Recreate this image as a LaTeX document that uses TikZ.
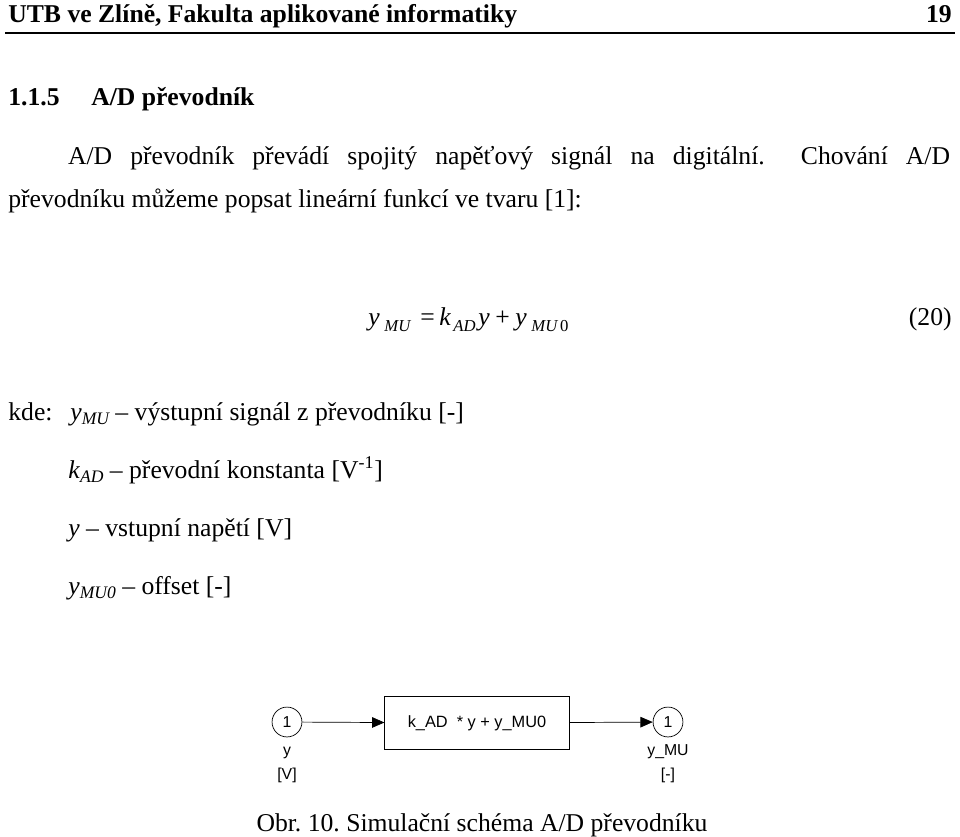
\documentclass[tikz,border=0pt]{standalone}
\usepackage{fontspec}
\setmainfont{Liberation Serif}
\newfontfamily\simfont{Liberation Sans}
\usetikzlibrary{arrows.meta}
\frenchspacing

\tikzset{
  txt/.style={anchor=base west, inner sep=0pt, font=\fontsize{14.6}{17}\selectfont},
  sub/.style={anchor=base west, inner sep=0pt, font=\fontsize{9.5}{10}\selectfont\itshape},
  port/.style={draw, circle, minimum size=17pt, inner sep=0pt, font=\simfont\fontsize{9}{10}\selectfont},
  lbl/.style={inner sep=0pt, anchor=base, font=\simfont\fontsize{9}{10}\selectfont},
  fcn/.style={draw, minimum width=105pt, minimum height=30pt, font=\simfont\fontsize{9.3}{10}\selectfont},
  sig/.style={-{Triangle[length=7pt,width=6pt]}}
}

\begin{document}
\begin{tikzpicture}[x=0.02cm, y=-0.02cm]
\useasboundingbox (0,0) rectangle (960,836);
% header
\node[txt, font=\fontsize{14.6}{17}\selectfont\bfseries] (head) at (8,22) {UTB ve Zlíně, Fakulta aplikované informatiky};
\node[txt, anchor=base east, font=\fontsize{14.6}{17}\selectfont\bfseries] (page) at (952,22) {19};
\draw[line width=0.6pt] (5,33) -- (955,33);
\node[txt, font=\fontsize{14.6}{17}\selectfont\bfseries] (sec) at (8,105) {1.1.5\hspace{18pt}A/D převodník};
% paragraph
\node[anchor=north west, inner sep=0pt, text width=536pt, align=justify,
      font=\fontsize{14.6}{24.4}\selectfont] (par) at (8,146)
  {\hspace*{34pt}A/D převodník převádí spojitý napěťový signál na digitální.\ \ Chování A/D\linebreak převodníku můžeme popsat lineární funkcí ve tvaru [1]:};
% equation
\node[txt, font=\fontsize{14.6}{17}\selectfont\itshape] (e1) at (368,325) {y};
\node[sub] (e2) at (384,331) {MU};
\node[txt] (e3) at (420,325) {=};
\node[txt, font=\fontsize{14.6}{17}\selectfont\itshape] (e4) at (439,325) {k};
\node[sub] (e5) at (453,331) {AD};
\node[txt, font=\fontsize{14.6}{17}\selectfont\itshape] (e6) at (478,325) {y};
\node[txt] (e7) at (495,325) {+};
\node[txt, font=\fontsize{14.6}{17}\selectfont\itshape] (e8) at (515,325) {y};
\node[sub] (e9) at (531,331) {MU\,\upshape 0};
\node[txt, anchor=base east] (eqno) at (952,325) {(20)};
% legend
\node[txt] (kde) at (8,420) {kde:};
\node[txt] (l1) at (70,420) {\textit{y}\raisebox{-2.5pt}{\fontsize{10}{10}\selectfont\itshape MU} -- výstupní signál z převodníku [-]};
\node[txt] (l2) at (68,478) {\textit{k}\raisebox{-2.5pt}{\fontsize{10}{10}\selectfont\itshape AD} -- převodní konstanta [V\textsuperscript{-1}]};
\node[txt] (l3) at (68,536) {\textit{y} -- vstupní napětí [V]};
\node[txt] (l4) at (68,594) {\textit{y}\raisebox{-2.5pt}{\fontsize{10}{10}\selectfont\itshape MU0} -- offset [-]};
% simulation scheme
\node[port] (in) at (287,722) {1};
\node[fcn] (f) at (477,723) {k\_AD \ * y + y\_MU0};
\node[port] (out) at (668,722) {1};
\draw[sig] (in) -- (f);
\draw[sig] (f) -- (out);
\node[lbl] (iny) at (287,755) {y};
\node[lbl] (inu) at (287,779) {[V]};
\node[lbl] (outy) at (668,755) {y\_MU};
\node[lbl] (outu) at (668,779) {[-]};
\node[txt, anchor=base] (cap) at (482,831) {Obr. 10. Simulační schéma A/D převodníku};
\end{tikzpicture}
\end{document}
